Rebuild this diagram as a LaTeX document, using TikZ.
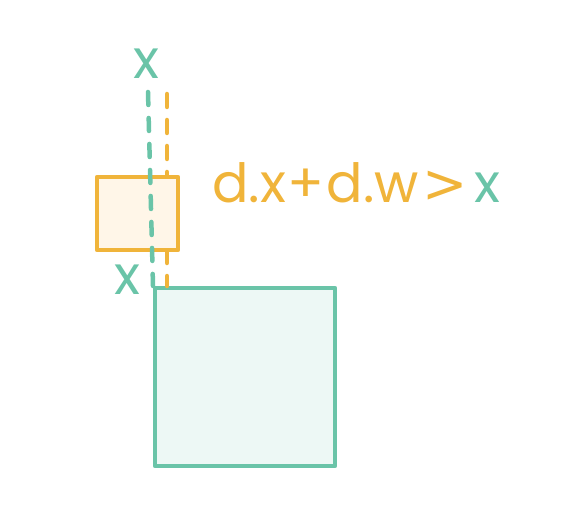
\documentclass[tikz,border=0pt]{standalone}
\usepackage{fontspec}
\setmainfont{Poppins}
\newfontfamily\symfont{DejaVu Sans}
\usetikzlibrary{positioning}
\definecolor{SketchTeal}{RGB}{106, 196, 168}
\definecolor{SketchTealFill}{RGB}{237, 248, 245}
\definecolor{SketchOrange}{RGB}{240, 180, 58}
\definecolor{SketchOrangeFill}{RGB}{255, 246, 232}

\begin{document}
\begin{tikzpicture}[x=1pt, y=-1pt, line cap=round, line join=round]
    \useasboundingbox (0,0) rectangle (576,524);

    % Styles
    \tikzset{
        pen/.style={line width=4.5pt},
        guide/.style={pen, dash pattern=on 13pt off 13pt},
        hand/.style={inner sep=0pt, font=\fontsize{54}{54}\selectfont}
    }

    % Big box (target)
    \draw[pen, SketchTeal, fill=SketchTealFill] (155,288) rectangle (335,466);

    % Guide of the small box's right edge (d.x + d.w)
    \draw[guide, SketchOrange] (167,94) -- (167,286);

    % Small box (d)
    \draw[pen, SketchOrange, fill=SketchOrangeFill] (97,177) rectangle (178,250);

    % Guide of x
    \draw[guide, SketchTeal] (148,92) -- (153,286);

    % Labels
    \node[hand, SketchTeal] (xtop) at (146,64) {x};
    \node[hand, SketchTeal] (xbot) at (127,280) {x};
    \node[hand, anchor=west, SketchOrange] (cond) at (212,183)
        {d.x\kern2pt+\kern2pt d.w\kern4pt{\symfont >}\kern6pt\textcolor{SketchTeal}{x}};
\end{tikzpicture}
\end{document}
